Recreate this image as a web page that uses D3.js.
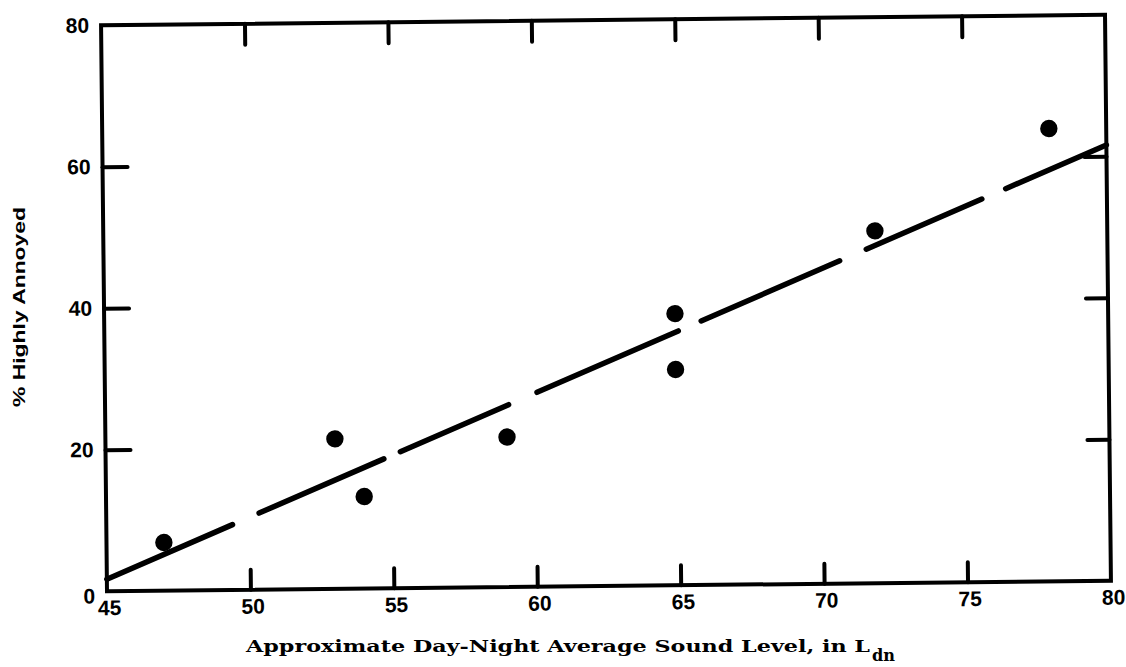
<!DOCTYPE html>
<html><head><meta charset="utf-8">
<script src="https://cdn.jsdelivr.net/npm/d3@7"></script>
<style>html,body{margin:0;padding:0;background:#fff;} svg{display:block}</style>
</head><body>
<svg id="chart" width="1126" height="667"></svg>
<script>
// ---- data ----
const levels  = [47, 53, 54, 59, 64.9, 64.9, 71.9, 78];
const annoyed = [6.8, 21.2, 13.0, 21.2, 38.4, 30.5, 49.8, 64.0];
const fitLevels  = [45, 80];
const fitAnnoyed = [1.7, 61.6];
const xTicks = [45, 50, 55, 60, 65, 70, 75, 80];
const yTicks = [0, 20, 40, 60, 80];
const xTitle = "Approximate Day-Night Average Sound Level, in L";
const xTitleSub = "dn";
const yTitle = "% Highly Annoyed";

(function () {
// ---- layout ----
const m = {left: 104, right: 1108, top: 20, bottom: 586};
const x = d3.scaleLinear().domain([45, 80]).range([m.left, m.right]);
const y = d3.scaleLinear().domain([0, 80]).range([m.bottom, m.top]);
const sans = "'Liberation Sans', Arial, sans-serif";
const serif = "'DejaVu Serif', 'Liberation Serif', serif";

const svg = d3.select("#chart");
svg.append("rect").attr("width", 1126).attr("height", 667).attr("fill", "#fff");
const g = svg.append("g").attr("transform", "rotate(-0.6,606,303)");

const xEnds = x.domain(), yEnds = y.domain();

// bottom axis (labels + inward ticks)
const axB = g.append("g").attr("transform", `translate(0,${m.bottom})`)
  .call(d3.axisBottom(x).tickValues(xTicks).tickSizeInner(-20).tickSizeOuter(0).tickPadding(9));
axB.select(".domain").remove();
axB.selectAll(".tick").filter(d => d === xEnds[0] || d === xEnds[1]).select("line").remove();
axB.selectAll("text").attr("dx", 2);

// left axis
const axL = g.append("g").attr("transform", `translate(${m.left},0)`)
  .call(d3.axisLeft(y).tickValues(yTicks).tickSizeInner(-25).tickSizeOuter(0).tickPadding(12));
axL.select(".domain").remove();
axL.selectAll(".tick").filter(d => d === yEnds[0] || d === yEnds[1]).select("line").remove();
axL.selectAll(".tick").filter(d => d === yEnds[0]).select("text").attr("dy", "0.55em");

// top axis (ticks only)
const axT = g.append("g").attr("transform", `translate(0,${m.top})`)
  .call(d3.axisTop(x).tickValues(xTicks.filter(v => v !== xEnds[0] && v !== xEnds[1]))
    .tickSizeInner(-21).tickSizeOuter(0).tickFormat(""));
axT.select(".domain").remove();

// right axis (ticks only)
const axR = g.append("g").attr("transform", `translate(${m.right},0)`)
  .call(d3.axisRight(y).tickValues(yTicks.filter(v => v !== yEnds[0] && v !== yEnds[1]))
    .tickSizeInner(-22).tickSizeOuter(0).tickFormat(""));
axR.select(".domain").remove();

[axB, axL, axT, axR].forEach(a => {
  a.selectAll(".tick line").attr("stroke", "#000").attr("stroke-width", 4).attr("stroke-linecap", "round");
  a.selectAll(".tick text").attr("fill", "#000")
    .style("font-family", sans).style("font-weight", "bold").style("font-size", "21px");
});

// frame
g.append("rect")
  .attr("x", x(xEnds[0])).attr("y", y(yEnds[1]))
  .attr("width", x(xEnds[1]) - x(xEnds[0])).attr("height", y(yEnds[0]) - y(yEnds[1]))
  .attr("fill", "none").attr("stroke", "#000").attr("stroke-width", 4);

// fitted dashed line
const fit = fitLevels.map((v, i) => [v, fitAnnoyed[i]]);
g.append("path").datum(fit)
  .attr("d", d3.line().x(d => x(d[0])).y(d => y(d[1])))
  .attr("fill", "none").attr("stroke", "#000").attr("stroke-width", 5.5)
  .attr("stroke-linecap", "round")
  .attr("stroke-dasharray", "137 29 136 18 118 31 154 25 151 29 126 26 400");

// points
g.selectAll("circle.pt").data(levels.map((v, i) => [v, annoyed[i]])).join("circle")
  .attr("class", "pt")
  .attr("cx", d => x(d[0])).attr("cy", d => y(d[1])).attr("r", 8.7).attr("fill", "#000");

// titles
svg.append("text").attr("x", 246).attr("y", 652)
  .attr("textLength", 624).attr("lengthAdjust", "spacingAndGlyphs")
  .style("font-family", serif).style("font-weight", "bold").style("font-size", "16px")
  .attr("fill", "#000").text(xTitle);
svg.append("text").attr("x", 872).attr("y", 661)
  .attr("textLength", 23).attr("lengthAdjust", "spacingAndGlyphs")
  .style("font-family", serif).style("font-weight", "bold").style("font-size", "16px")
  .attr("fill", "#000").text(xTitleSub);

svg.append("text").attr("transform", "translate(19,307) rotate(-90)")
  .attr("text-anchor", "middle").attr("dominant-baseline", "central")
  .attr("textLength", 200).attr("lengthAdjust", "spacingAndGlyphs")
  .style("font-family", sans).style("font-weight", "bold").style("font-size", "17px")
  .attr("fill", "#000").text(yTitle);
})();
</script>
</body></html>
